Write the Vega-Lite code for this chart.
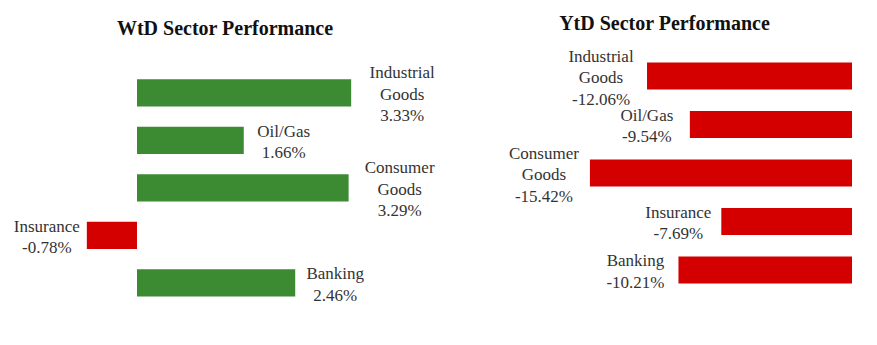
{
  "$schema": "https://vega.github.io/schema/vega-lite/v6.json",
  "padding": {"top": 14, "left": 0, "right": 0, "bottom": 0},
  "background": "white",
  "spacing": 20,
  "bounds": "flush",
  "config": {
    "view": {"stroke": null},
    "font": "Liberation Serif",
    "title": {"fontSize": 20, "fontWeight": "bold", "color": "#111111", "font": "Liberation Serif", "frame": "group"},
    "text": {"align": "center", "baseline": "middle", "lineBreak": "\n", "fontSize": 17, "lineHeight": 21.5, "color": "#333333"}
  },
  "hconcat": [
    {
      "width": 420,
      "height": {"step": 47.5},
      "title": {"text": "WtD Sector Performance", "offset": 18, "dx": 15, "frame": "group"},
      "data": {"values": [
        {"sector": "Industrial\nGoods", "value": 3.33},
        {"sector": "Oil/Gas", "value": 1.66},
        {"sector": "Consumer\nGoods", "value": 3.29},
        {"sector": "Insurance", "value": -0.78},
        {"sector": "Banking", "value": 2.46}
      ]},
      "transform": [
        {"calculate": "datum.sector + '\\n' + replace(format(datum.value, '.2f'), '\u2212', '-') + '%'", "as": "label"},
        {"calculate": "indexof(datum.sector, '\\n') >= 0 ? 3 : 2", "as": "lines"}
      ],
      "encoding": {
        "y": {"field": "sector", "type": "nominal", "sort": null, "axis": null,
              "scale": {"domain": ["Industrial\nGoods", "Oil/Gas", "Consumer\nGoods", "Insurance", "Banking"], "paddingInner": 0.43, "paddingOuter": 0.47}}
      },
      "layer": [
        {
          "mark": {"type": "bar"},
          "encoding": {
            "x": {"field": "value", "type": "quantitative", "scale": {"domain": [-2.13, 4.4], "nice": false, "zero": false}, "axis": null},
            "color": {"condition": {"test": "datum.value < 0", "value": "#D40000"}, "value": "#3C8A32"}
          }
        },
        {
          "transform": [{"filter": "datum.value >= 0 && datum.lines == 3"}],
          "mark": {"type": "text", "dx": 51, "dy": -19.5},
          "encoding": {"x": {"field": "value", "type": "quantitative"}, "text": {"field": "label"}}
        },
        {
          "transform": [{"filter": "datum.value >= 0 && datum.lines == 2"}],
          "mark": {"type": "text", "dx": 40, "dy": -8.75},
          "encoding": {"x": {"field": "value", "type": "quantitative"}, "text": {"field": "label"}}
        },
        {
          "transform": [{"filter": "datum.value < 0"}],
          "mark": {"type": "text", "dx": -40, "dy": -8.75},
          "encoding": {"x": {"field": "value", "type": "quantitative"}, "text": {"field": "label"}}
        }
      ]
    },
    {
      "width": 437,
      "height": {"step": 48.5},
      "title": {"text": "YtD Sector Performance", "offset": 13.5, "dx": 6, "frame": "group"},
      "data": {"values": [
        {"sector": "Industrial\nGoods", "value": -12.06},
        {"sector": "Oil/Gas", "value": -9.54},
        {"sector": "Consumer\nGoods", "value": -15.42},
        {"sector": "Insurance", "value": -7.69},
        {"sector": "Banking", "value": -10.21}
      ]},
      "transform": [
        {"calculate": "datum.sector + '\\n' + replace(format(datum.value, '.2f'), '\u2212', '-') + '%'", "as": "label"},
        {"calculate": "indexof(datum.sector, '\\n') >= 0 ? 3 : 2", "as": "lines"}
      ],
      "encoding": {
        "y": {"field": "sector", "type": "nominal", "sort": null, "axis": null,
              "scale": {"domain": ["Industrial\nGoods", "Oil/Gas", "Consumer\nGoods", "Insurance", "Banking"], "paddingInner": 0.443, "paddingOuter": 0.115}}
      },
      "layer": [
        {
          "mark": {"type": "bar"},
          "encoding": {
            "x": {"field": "value", "type": "quantitative", "scale": {"domain": [-24.24, 1.47], "nice": false, "zero": false}, "axis": null},
            "color": {"condition": {"test": "datum.value < 0", "value": "#D40000"}, "value": "#3C8A32"}
          }
        },
        {
          "transform": [{"filter": "datum.lines == 3"}],
          "mark": {"type": "text", "dx": -46, "dy": -19.5},
          "encoding": {"x": {"field": "value", "type": "quantitative"}, "text": {"field": "label"}}
        },
        {
          "transform": [{"filter": "datum.lines == 2"}],
          "mark": {"type": "text", "dx": -43, "dy": -8.75},
          "encoding": {"x": {"field": "value", "type": "quantitative"}, "text": {"field": "label"}}
        }
      ]
    }
  ]
}
